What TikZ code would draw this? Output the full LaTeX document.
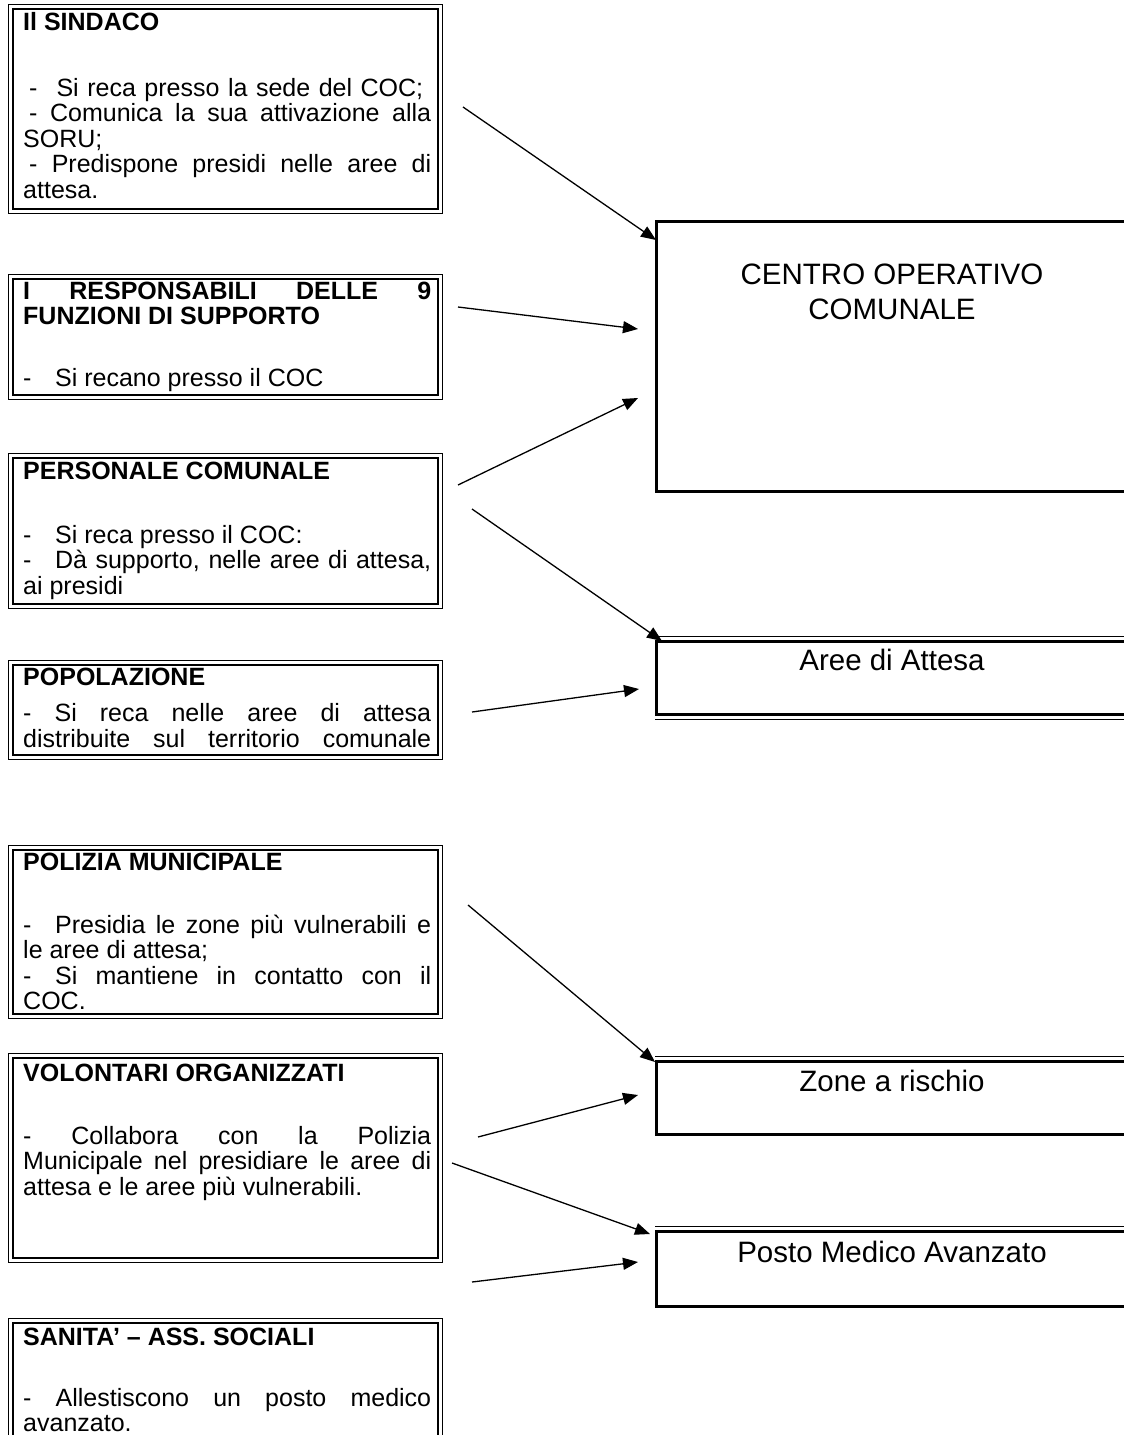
\documentclass[tikz,border=0pt]{standalone}
\usepackage{fontspec}
\setmainfont{Liberation Sans}
\usetikzlibrary{arrows.meta}
\newcommand{\sline}[1]{\makebox[408pt][s]{#1}}
\newcommand{\dashtab}{\makebox[32pt][l]{-}}
\tikzset{
  lbox/.style={draw, line width=2.2pt, inner sep=0pt, anchor=north west, minimum width=425pt},
  lframe/.style={line width=1pt},
  rbox/.style={draw, line width=3pt, inner sep=0pt, anchor=north west, minimum width=475pt},
  ltext/.style={anchor=base west, inner sep=0pt, font=\fontsize{25}{25.5}\selectfont},
  rtext/.style={anchor=base, inner sep=0pt, font=\fontsize{29.5}{35}\selectfont},
  arr/.style={line width=1.3pt, -{Triangle[length=15pt,width=12pt]}},
  thinline/.style={line width=1pt}
}
\begin{document}
\begin{tikzpicture}[x=1pt,y=-1pt]
\useasboundingbox (0,0) rectangle (1124,1435);
% left boxes (thick inner line)
\node[lbox, minimum height=200pt] (sindaco) at (11.5,7.5) {};
\node[lbox, minimum height=116pt] (resp) at (11.5,277.5) {};
\node[lbox, minimum height=146pt] (pers) at (11.5,456.5) {};
\node[lbox, minimum height=90pt] (popo) at (11.5,663.5) {};
\node[lbox, minimum height=164pt] (pol) at (11.5,848.5) {};
\node[lbox, minimum height=200pt] (vol) at (11.5,1056.5) {};
\node[lbox, minimum height=200pt] (san) at (11.5,1321.5) {};
% thin outer frame
\foreach \b in {sindaco,resp,pers,popo,pol,vol,san}
  \draw[lframe] ([shift={(-3.5pt,3.5pt)}]\b.north west) rectangle ([shift={(3.5pt,-3.5pt)}]\b.south east);
% texts
\node[ltext] (t1) at (23,30) {\parbox[t]{408pt}{\raggedright
  \textbf{Il SINDACO}\\[40.5pt]
  \makebox[400pt][s]{\hspace*{6pt}-\hspace{19pt}Si reca presso la sede del COC;}\\
  \sline{\hspace*{6pt}- Comunica la sua attivazione alla}\\
  SORU;\\
  \sline{\hspace*{6pt}- Predispone presidi nelle aree di}\\
  attesa.}};
\node[ltext] (t2) at (23,299) {\parbox[t]{408pt}{\raggedright
  \sline{\textbf{I RESPONSABILI DELLE 9}}\\
  \textbf{FUNZIONI DI SUPPORTO}\\[36.5pt]
  \dashtab Si recano presso il COC}};
\node[ltext] (t3) at (23,479) {\parbox[t]{408pt}{\raggedright
  \textbf{PERSONALE COMUNALE}\\[38.5pt]
  \dashtab Si reca presso il COC:\\
  \sline{\dashtab Dà supporto, nelle aree di attesa,}\\
  ai presidi}};
\node[ltext] (t4) at (23,685) {\parbox[t]{408pt}{\raggedright
  \textbf{POPOLAZIONE}\\[11pt]
  \sline{- Si reca nelle aree di attesa}\\
  \sline{distribuite sul territorio comunale}}};
\node[ltext] (t5) at (23,870) {\parbox[t]{408pt}{\raggedright
  \textbf{POLIZIA MUNICIPALE}\\[37.5pt]
  \sline{\dashtab Presidia le zone più vulnerabili e}\\
  le aree di attesa;\\
  \sline{\dashtab Si mantiene in contatto con il}\\
  COC.}};
\node[ltext] (t6) at (23,1081) {\parbox[t]{408pt}{\raggedright
  \textbf{VOLONTARI ORGANIZZATI}\\[37.5pt]
  \sline{- Collabora con la Polizia}\\
  \sline{Municipale nel presidiare le aree di}\\
  attesa e le aree più vulnerabili.}};
\node[ltext] (t7) at (23,1345) {\parbox[t]{408pt}{\raggedright
  \textbf{SANITA' -- ASS. SOCIALI}\\[35.5pt]
  \sline{- Allestiscono un posto medico}\\
  avanzato.}};
% right boxes
\node[rbox, minimum height=270pt] (coc) at (655,220) {};
\node[rbox, minimum height=73pt] (aree) at (655,640) {};
\node[rbox, minimum height=73pt] (zone) at (655,1060) {};
\node[rbox, minimum height=75pt] (pma) at (655,1230) {};
\draw[thinline] ([yshift=3.5pt]aree.north west) -- ([yshift=3.5pt]aree.north east);
\draw[thinline] ([yshift=-3.5pt]aree.south west) -- ([yshift=-3.5pt]aree.south east);
\draw[thinline] ([yshift=3.5pt]zone.north west) -- ([yshift=3.5pt]zone.north east);
\draw[thinline] ([yshift=3.5pt]pma.north west) -- ([yshift=3.5pt]pma.north east);
\node[rtext] (tc) at (892,284) {CENTRO OPERATIVO};
\node[rtext] (tc2) at (892,319) {COMUNALE};
\node[rtext] (ta) at (892,670) {Aree di Attesa};
\node[rtext] (tz) at (892,1091) {Zone a rischio};
\node[rtext] (tp) at (892,1262) {Posto Medico Avanzato};
% arrow start and end points
\coordinate (s1) at (463,107);  \coordinate (e1) at (656,240);
\coordinate (s2) at (458,307);  \coordinate (e2) at (638,329);
\coordinate (s3) at (458,485);  \coordinate (e3) at (638,398);
\coordinate (s4) at (472,509);  \coordinate (e4) at (662,641);
\coordinate (s5) at (472,712);  \coordinate (e5) at (639,689);
\coordinate (s6) at (468,905);  \coordinate (e6) at (655,1062);
\coordinate (s7) at (478,1137); \coordinate (e7) at (638,1095);
\coordinate (s8) at (452,1163); \coordinate (e8) at (650,1234);
\coordinate (s9) at (472,1282); \coordinate (e9) at (638,1262);
\draw[arr] (s1) -- (e1);
\draw[arr] (s2) -- (e2);
\draw[arr] (s3) -- (e3);
\draw[arr] (s4) -- (e4);
\draw[arr] (s5) -- (e5);
\draw[arr] (s6) -- (e6);
\draw[arr] (s7) -- (e7);
\draw[arr] (s8) -- (e8);
\draw[arr] (s9) -- (e9);
\end{tikzpicture}
\end{document}
